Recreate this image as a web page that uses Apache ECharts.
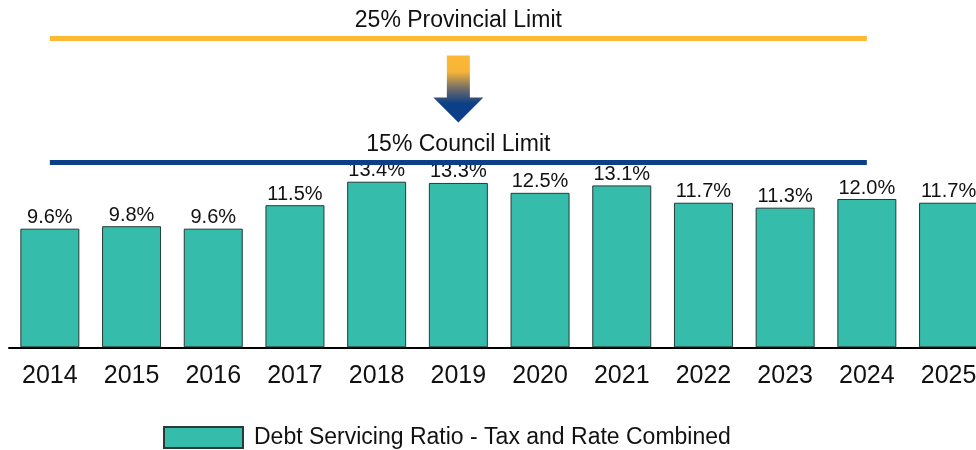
<!DOCTYPE html>
<html>
<head>
<meta charset="utf-8">
<title>Debt Servicing Ratio</title>
<script src="https://cdn.jsdelivr.net/npm/echarts@6/dist/echarts.min.js"></script>
<style>
  html, body { margin: 0; padding: 0; background: #ffffff; }
  #chart { width: 976px; height: 450px; }
</style>
</head>
<body>
<div id="chart"></div>
<script>
// Financial years shown on the category axis
const years = ['2014', '2015', '2016', '2017', '2018', '2019', '2020', '2021', '2022', '2023', '2024', '2025'];

// Debt servicing ratio (tax and rate combined), in percent
const debtRatio = [9.6, 9.8, 9.6, 11.5, 13.4, 13.3, 12.5, 13.1, 11.7, 11.3, 12.0, 11.7];

// Policy limits drawn as reference lines, in percent
const provincialLimit = 25;
const councilLimit = 15;

// Limit lines run between these two years
const limitFrom = '2014';
const limitTo = '2024';

// The downward arrow sits between the two limits at this year
const arrowYear = '2019';
const arrowLevel = 20.9;

const seriesName = 'Debt Servicing Ratio - Tax and Rate Combined';

const FONT = "'Liberation Sans', Arial, Helvetica, sans-serif";
const TEAL = '#35BCAA';
const ORANGE = '#FDB934';
const NAVY = '#0B3F87';

const chart = echarts.init(document.getElementById('chart'), null, { renderer: 'canvas' });

function limitLine(value, color, text) {
  return [
    {
      coord: [limitFrom, value],
      lineStyle: { color: color, width: 5, type: 'solid' },
      label: {
        show: true,
        position: 'middle',
        formatter: text,
        color: '#111111',
        fontFamily: FONT,
        fontSize: 23,
        distance: 6
      }
    },
    { coord: [limitTo, value] }
  ];
}

const option = {
  animation: false,
  backgroundColor: '#ffffff',
  textStyle: { fontFamily: FONT },
  // the last category runs past the right edge of the canvas
  grid: {
    left: 9, width: 980.4, top: 1.3, height: 346,
    containLabel: false,
    outerBoundsMode: 'none'
  },
  legend: {
    show: true,
    left: 163,
    top: 426,
    padding: 0,
    icon: 'rect',
    itemWidth: 79,
    itemHeight: 21,
    textStyle: { fontFamily: FONT, fontSize: 23, color: '#111111', padding: [0, 0, 0, 6] },
    data: [seriesName]
  },
  xAxis: {
    type: 'category',
    data: years,
    boundaryGap: true,
    axisLine: { show: true, lineStyle: { color: '#000000', width: 2 } },
    axisTick: { show: false },
    axisLabel: { color: '#111111', fontFamily: FONT, fontSize: 25, margin: 16, hideOverlap: false },
    splitLine: { show: false }
  },
  yAxis: {
    type: 'value',
    min: 0,
    max: 28,
    show: false,
    splitLine: { show: false }
  },
  series: [
    {
      name: seriesName,
      type: 'bar',
      data: debtRatio,
      barWidth: 59,
      itemStyle: { color: TEAL, borderColor: '#263b37', borderWidth: 1 },
      label: {
        show: true,
        position: 'top',
        distance: 1,
        color: '#111111',
        fontFamily: FONT,
        fontSize: 20,
        formatter: p => p.value.toFixed(1) + '%'
      },
      markLine: {
        silent: true,
        symbol: ['none', 'none'],
        animation: false,
        data: [
          limitLine(provincialLimit, ORANGE, provincialLimit + '% Provincial Limit'),
          limitLine(councilLimit, NAVY, councilLimit + '% Council Limit')
        ]
      },
      markPoint: {
        silent: true,
        animation: false,
        data: [
          {
            coord: [arrowYear, arrowLevel],
            symbol: 'path://M13.5,0 L36.5,0 L36.5,42 L50,42 L25,67 L0,42 L13.5,42 Z',
            symbolSize: [50, 67],
            symbolKeepAspect: false,
            itemStyle: {
              color: {
                type: 'linear',
                x: 0, y: 0, x2: 0, y2: 1,
                colorStops: [
                  { offset: 0, color: ORANGE },
                  { offset: 0.24, color: '#F7B437' },
                  { offset: 0.5, color: '#6D6A6A' },
                  { offset: 0.72, color: NAVY },
                  { offset: 1, color: NAVY }
                ]
              }
            },
            label: { show: false }
          }
        ]
      }
    }
  ]
};

chart.setOption(option);
</script>
</body>
</html>
